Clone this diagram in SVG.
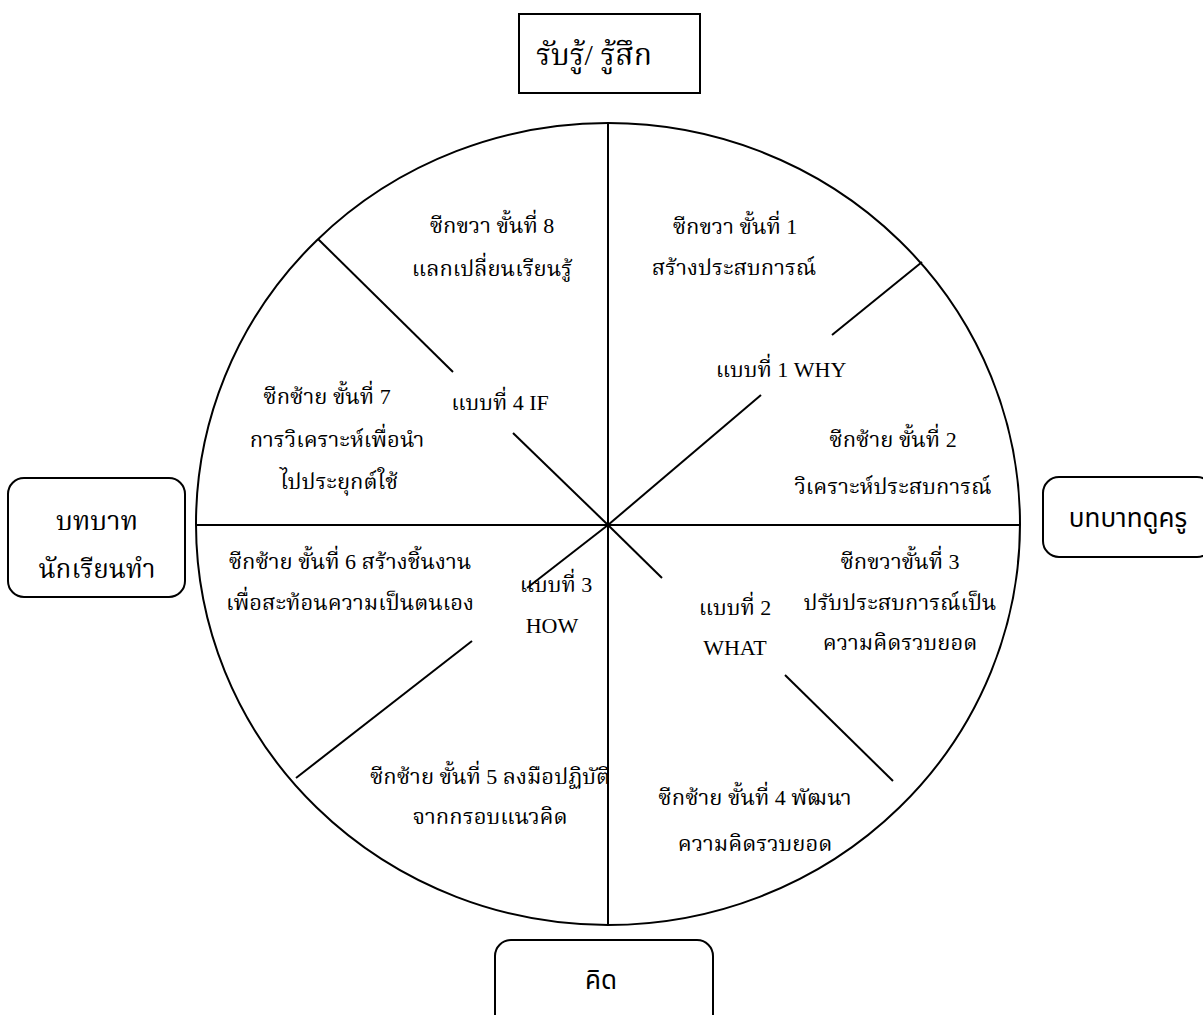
<svg xmlns="http://www.w3.org/2000/svg" width="1203" height="1015" viewBox="0 0 1203 1015">
<style>
.ln{stroke:#000;stroke-width:2;fill:none}
.bx{stroke:#000;stroke-width:2;fill:#fff}
.t{font-family:"Liberation Serif","Noto Serif Thai","Noto Sans Thai","DejaVu Serif",serif;font-size:22px;text-anchor:middle;fill:#000}
.s{font-family:"Noto Sans Thai","DejaVu Sans","Liberation Sans",sans-serif;font-size:26px;text-anchor:middle;fill:#000}
</style>
<rect width="1203" height="1015" fill="#fff"/>
<g id="wheel">
<ellipse class="ln" cx="608" cy="524" rx="412" ry="401"/>
</g>
<g id="connectors">
<line class="ln" x1="608" y1="123" x2="608" y2="925"/>
<line class="ln" x1="196" y1="525" x2="1020" y2="525"/>
<line class="ln" x1="608" y1="525" x2="761" y2="395"/>
<line class="ln" x1="832" y1="335" x2="922" y2="262"/>
<line class="ln" x1="318" y1="239" x2="453" y2="372"/>
<line class="ln" x1="513" y1="433" x2="608" y2="525"/>
<line class="ln" x1="608" y1="525" x2="527" y2="588"/>
<line class="ln" x1="472" y1="641" x2="296" y2="778"/>
<line class="ln" x1="608" y1="525" x2="662" y2="578"/>
<line class="ln" x1="785" y1="675" x2="893" y2="781"/>
</g>
<g id="node-top">
<rect class="bx" x="519" y="14" width="181" height="79"/>
<text class="t" x="594" y="65" style="font-size:30px">รับรู้/ รู้สึก</text>
</g>
<g id="node-left">
<rect class="bx" x="8" y="478" width="177" height="119" rx="16"/>
<text class="t" x="97" y="530" style="font-size:27px">บทบาท</text>
<text class="t" x="97" y="578" style="font-size:26px">นักเรียนทำ</text>
</g>
<g id="node-right">
<rect class="bx" x="1043" y="477" width="170" height="80" rx="16"/>
<text class="s" x="1128" y="527">บทบาทดูครู</text>
</g>
<g id="node-bottom">
<rect class="bx" x="495" y="940" width="218" height="90" rx="16"/>
<text class="s" x="601" y="989">คิด</text>
</g>
<g id="labels">
<text class="t" x="492" y="233">ซีกขวา ขั้นที่ 8</text>
<text class="t" x="492" y="276">แลกเปลี่ยนเรียนรู้</text>
<text class="t" x="735" y="234">ซีกขวา ขั้นที่ 1</text>
<text class="t" x="734" y="275">สร้างประสบการณ์</text>
<text class="t" x="781" y="377">แบบที่ 1 WHY</text>
<text class="t" x="500" y="410">แบบที่ 4 IF</text>
<text class="t" x="327" y="404">ซีกซ้าย ขั้นที่ 7</text>
<text class="t" x="337" y="447">การวิเคราะห์เพื่อนำ</text>
<text class="t" x="339" y="489">ไปประยุกต์ใช้</text>
<text class="t" x="893" y="447">ซีกซ้าย ขั้นที่ 2</text>
<text class="t" x="893" y="494">วิเคราะห์ประสบการณ์</text>
<text class="t" x="350" y="569">ซีกซ้าย ขั้นที่ 6 สร้างชิ้นงาน</text>
<text class="t" x="350" y="610">เพื่อสะท้อนความเป็นตนเอง</text>
<text class="t" x="556" y="592">แบบที่ 3</text>
<text class="t" x="552" y="633">HOW</text>
<text class="t" x="735" y="615">แบบที่ 2</text>
<text class="t" x="735" y="655">WHAT</text>
<text class="t" x="900" y="569">ซีกขวาขั้นที่ 3</text>
<text class="t" x="900" y="610">ปรับประสบการณ์เป็น</text>
<text class="t" x="900" y="650">ความคิดรวบยอด</text>
<text class="t" x="490" y="784">ซีกซ้าย ขั้นที่ 5 ลงมือปฏิบัติ</text>
<text class="t" x="490" y="824">จากกรอบแนวคิด</text>
<text class="t" x="755" y="805">ซีกซ้าย ขั้นที่ 4 พัฒนา</text>
<text class="t" x="755" y="851">ความคิดรวบยอด</text>
</g>
</svg>
